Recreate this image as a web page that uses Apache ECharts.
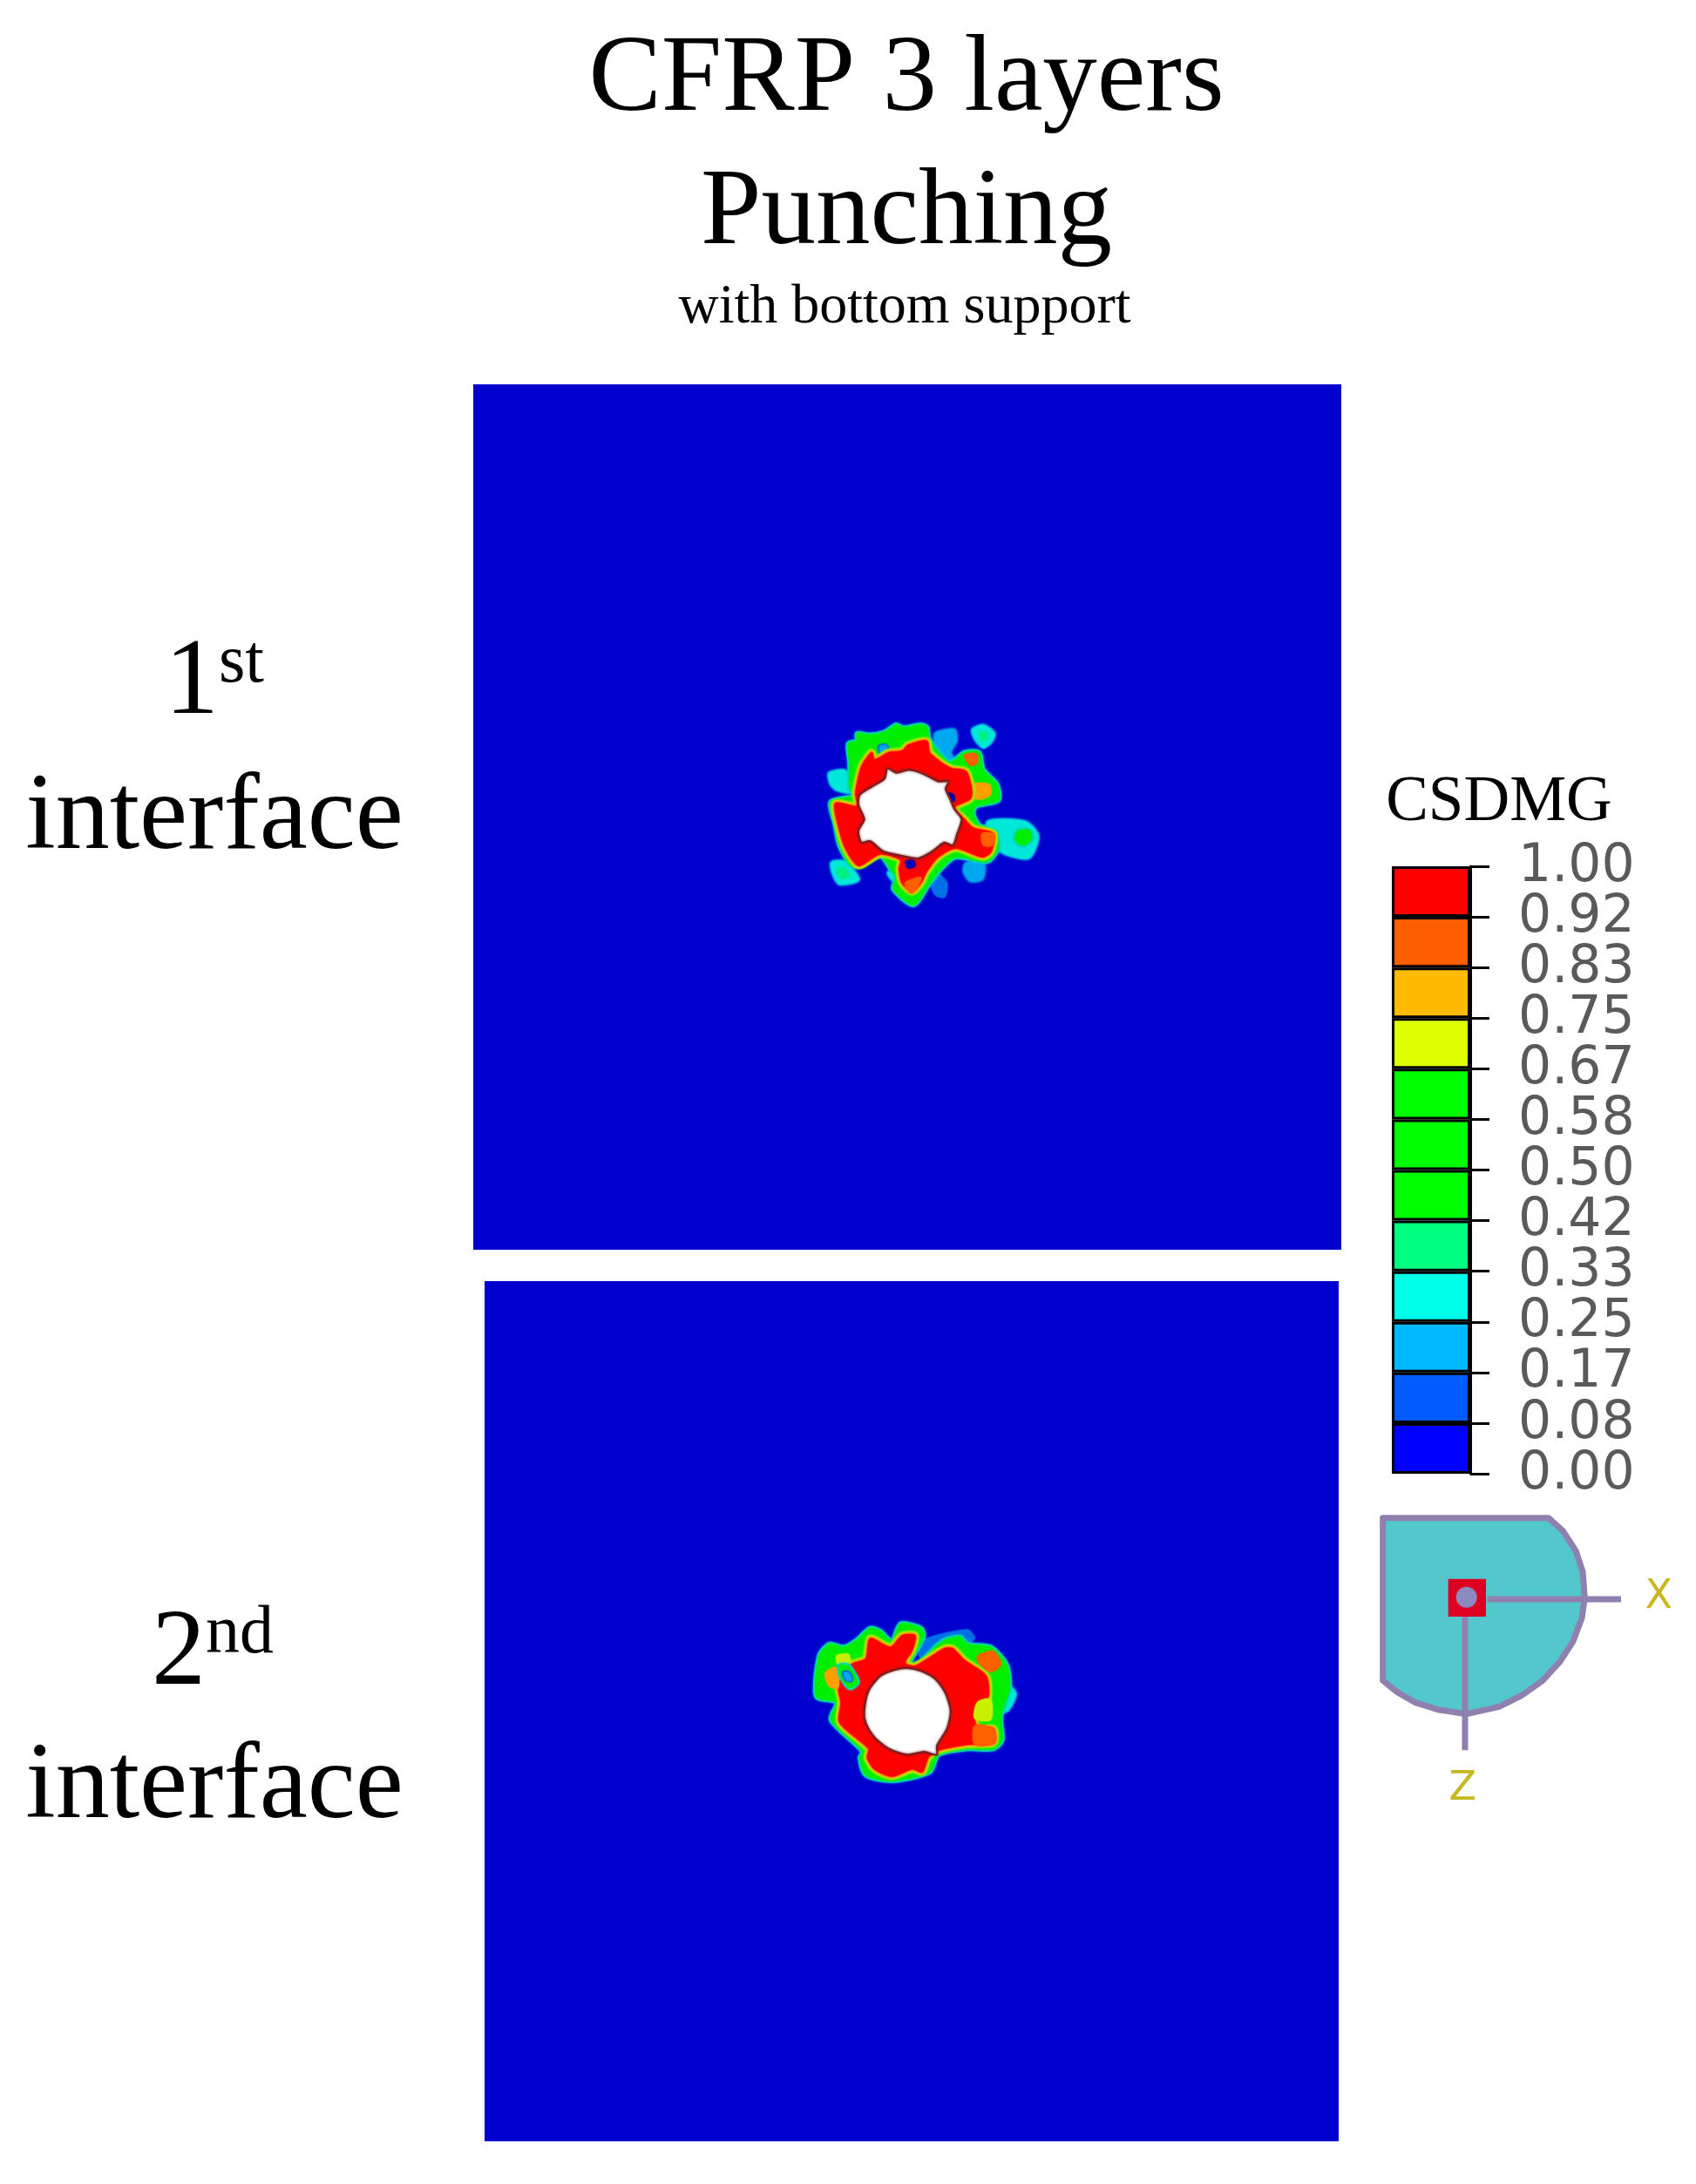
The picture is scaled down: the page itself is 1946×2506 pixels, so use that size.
<!DOCTYPE html>
<html><head><meta charset="utf-8">
<style>html,body{margin:0;padding:0;background:#fff}#c{width:1946px;height:2506px;filter:blur(0.7px)}</style>
<script src="https://cdn.jsdelivr.net/npm/echarts@6/dist/echarts.min.js"></script>
</head><body><div id="c"></div>
<script>
// ---- colour legend values ----
const legendTicks = ['0.00','0.08','0.17','0.25','0.33','0.42','0.50','0.58','0.67','0.75','0.83','0.92','1.00'];
const legendColors = ['#0000FF','#005CFF','#00B9FF','#00FFE8','#00FF80','#00FF00','#00FF00','#00FF00','#DFFF00','#FFBB00','#FF5E00','#FF0000'];

// ---- damage contours, interface 1 (x, y in model units; hole centre near 370,400) ----
const p1Blue1 = [[460,125],[525,112],[532,150],[512,190],[532,228],[490,205],[462,170]];
const p1Island = [[588,112],[625,98],[662,125],[650,155],[625,172],[598,145]];
const p1IslandCore = [[612,122],[635,122],[638,142],[622,150]];
const p1Left = [[95,262],[150,255],[170,325],[120,318],[100,298]];
const p1LowLeft = [[103,570],[148,568],[195,628],[130,642],[110,612]];
const p1LowLeftCore = [[122,590],[150,590],[165,618],[135,622]];
const p1Right = [[640,430],[770,430],[812,478],[782,552],[700,538],[660,505]];
const p1RightCore = [[745,460],[785,460],[790,490],[760,510],[735,490]];
const p1Low = [[565,572],[625,570],[622,625],[580,632],[558,600]];
const p1Low2 = [[470,610],[500,640],[492,688],[460,682],[445,640]];
const p1Low3 = [[298,605],[340,590],[345,640],[315,630]];
const p1Green = [[190,125],[235,130],[285,120],[325,95],[350,105],[410,95],[432,105],[437,140],[470,190],[510,225],[560,190],[610,190],[625,250],[672,300],[677,355],[600,375],[590,400],[610,440],[665,465],[675,520],[640,565],[530,550],[480,590],[440,640],[385,715],[315,660],[325,620],[305,590],[270,545],[200,580],[170,580],[130,510],[115,440],[100,360],[180,340],[165,310],[165,230],[160,160],[190,150]];
const p1Spot = [[268,170],[290,168],[295,190],[275,195]];
const p1Red = [[205,240],[240,190],[250,215],[300,190],[345,185],[365,165],[430,150],[440,190],[480,225],[515,245],[565,255],[585,320],[580,350],[525,380],[560,420],[590,450],[660,470],[650,535],[620,550],[530,520],[470,550],[430,600],[410,640],[380,670],[345,640],[335,590],[340,560],[270,540],[195,580],[150,520],[125,440],[115,365],[190,375],[185,330]];
const p1Or1 = [[355,640],[410,620],[395,660],[375,675]];
const p1Or2 = [[590,300],[645,300],[650,335],[620,350],[585,345]];
const p1Or3 = [[560,200],[600,195],[605,225],[580,235]];
const p1Or4 = [[620,470],[660,470],[655,510],[625,510]];
const p1Hole = [[200,335],[255,300],[285,280],[295,245],[325,260],[370,250],[420,265],[470,290],[505,290],[495,315],[510,350],[525,385],[550,420],[535,470],[520,510],[490,500],[450,530],[400,555],[340,545],[280,530],[235,495],[205,500],[195,460],[215,420],[195,370]];
const p1Dark1 = [[358,565],[385,562],[390,582],[365,588]];
const p1Dark2 = [[498,330],[522,335],[525,358],[505,355]];

// ---- damage contours, interface 2 (hole centre near 393,370) ----
const p2Blue = [[440,130],[600,90],[625,120],[590,145],[490,150],[440,190]];
const p2RightCyan = [[735,280],[765,310],[740,365],[712,372]];
const p2Green = [[90,180],[125,140],[175,150],[220,125],[265,85],[300,95],[340,130],[370,70],[440,85],[450,110],[420,170],[395,215],[440,200],[490,150],[525,125],[575,115],[600,140],[680,150],[735,210],[745,290],[720,370],[715,400],[720,470],[690,500],[600,500],[500,520],[470,580],[340,610],[250,590],[230,530],[240,510],[130,400],[150,340],[80,320]];
const p2Red = [[155,280],[200,210],[250,190],[265,120],[335,150],[375,110],[420,110],[410,160],[385,205],[420,215],[520,155],[550,155],[590,195],[665,250],[670,330],[625,400],[640,430],[690,430],[690,480],[600,485],[500,505],[465,530],[445,580],[410,570],[340,595],[280,570],[255,530],[260,500],[160,410],[165,340]];
const p2Or1 = [[110,240],[150,220],[155,290],[125,285]];
const p2Yel = [[150,180],[190,175],[195,205],[155,210]];
const p2Eye = [[160,215],[190,215],[222,270],[195,290],[165,250]];
const p2EyeCore = [[175,238],[192,240],[200,262],[185,262]];
const p2Yel2 = [[635,340],[680,330],[680,400],[625,395]];
const p2Or2 = [[625,420],[690,430],[695,480],[625,485]];
const p2Or3 = [[635,180],[690,165],[715,210],[680,235],[640,205]];
const p2Hole = [[245,370],[260,300],[300,250],[350,228],[393,222],[440,232],[490,260],[525,310],[542,370],[530,430],[495,490],[495,520],[470,515],[450,510],[393,520],[330,500],[280,460],[250,410]];

// ---- orientation triad ----
const triadBody = [[80,95],[650,95],[700,140],[745,210],[768,280],[775,370],[765,440],[735,520],[690,590],[630,655],[560,705],[480,745],[370,770],[270,755],[190,730],[130,695],[80,655]];
const triadBox = [[305,305],[435,305],[435,435],[305,435]];
const triadAxisX = [[440,375],[900,375]];
const triadAxisZ = [[363,435],[363,895]];

// ---- region lists: [points, kind] ----
const panel1Regions = [
 [p1Blue1,'sky'],[p1Low,'sky'],[p1Low2,'azure'],[p1Low3,'cyan'],
 [p1Island,'cyan'],[p1IslandCore,'spring'],[p1Left,'cyan'],[p1LowLeft,'cyan'],[p1LowLeftCore,'spring'],
 [p1Right,'cyan'],[p1RightCore,'green'],
 [p1Green,'green'],[p1Spot,'sky'],[p1Or3,'dorange'],[p1Or2,'orange'],
 [p1Red,'red'],[p1Or1,'dorange'],[p1Or4,'dorange'],
 [p1Dark1,'navy'],[p1Dark2,'navy'],[p1Hole,'hole']
];
const panel2Regions = [
 [p2Blue,'azure'],[p2RightCyan,'cyan'],[p2Green,'green'],
 [p2Red,'red'],[p2Or1,'orange'],[p2Yel,'yellow'],[p2Eye,'green'],[p2EyeCore,'sky'],
 [p2Yel2,'yellow'],[p2Or2,'dorange'],[p2Or3,'dorange'],[p2Hole,'hole']
];

const kinds = {
 red:{fill:'#FF0000',halos:[['#90F000',8],['#FFB000',4]]},
 green:{fill:'#00EE00',halos:[['#00D8C0',5]]},
 cyan:{fill:'#00E8D8',halos:[['#00A0E8',4]]},
 spring:{fill:'#00F080',halos:[]},
 sky:{fill:'#00A8F0',halos:[['#0060E0',4]]},
 azure:{fill:'#0070E8',halos:[]},
 yellow:{fill:'#C8F000',halos:[]},
 orange:{fill:'#FFA000',halos:[]},
 dorange:{fill:'#FF6000',halos:[]},
 navy:{fill:'#0000B0',halos:[]},
 hole:{fill:'#FFFFFF',halos:[],stroke:'#7A2020',lw:2}
};

function contourSeries(regions,gridIndex){
 return {type:'custom',coordinateSystem:'cartesian2d',xAxisIndex:gridIndex,yAxisIndex:gridIndex,silent:true,clip:true,
  data:regions.map((r,i)=>[i]),
  renderItem(params,api){
   const r=regions[api.value(0)],k=kinds[r[1]];
   const pts=r[0].map(p=>api.coord(p));
   const children=k.halos.map(h=>({type:'polygon',shape:{points:pts,smooth:0.25},style:{fill:h[0],stroke:h[0],lineWidth:h[1],lineJoin:'round',shadowBlur:3,shadowColor:h[0]}}));
   children.push({type:'polygon',shape:{points:pts,smooth:0.25},style:{fill:k.fill,stroke:k.stroke||k.fill,lineWidth:k.lw||1,shadowBlur:k.stroke?3:2,shadowColor:k.stroke||k.fill}});
   return {type:'group',children};
  }};
}
const hiddenX=(i,min,max)=>({type:'value',gridIndex:i,min,max,show:false,scale:true});
const hiddenY=(i,min,max)=>({type:'value',gridIndex:i,min,max,inverse:true,show:false,scale:true});
const serif='"Liberation Serif"';
const ttl=(text,left,top,size,extra)=>({text,left,top,textAlign:'center',padding:0,textStyle:Object.assign({fontFamily:serif,fontSize:size,fontWeight:'normal',color:'#000'},extra||{})});
const ordRich={a:{fontFamily:serif,fontSize:124,color:'#000'},s:{fontFamily:serif,fontSize:78,color:'#000',verticalAlign:'top',padding:[0,0,40,0]}};

const chart=echarts.init(document.getElementById('c'),null,{renderer:'canvas'});
const option={
 animation:false,backgroundColor:'#fff',
 title:[
  ttl('CFRP 3 layers',1040,31,125),
  ttl('Punching',1040,184,125),
  ttl('with bottom support',1038,321,64),
  ttl('{a|1}{s|st}',246,723,124,{rich:ordRich}),
  ttl('interface',246,878,124),
  ttl('{a|2}{s|nd}',244,1837,124,{rich:ordRich}),
  ttl('interface',246,1990,124),
  ttl('CSDMG',1720,885,73)
 ],
 grid:[
  {left:543,top:441,width:996,height:993,show:true,backgroundColor:'#0000CE',borderWidth:0},
  {left:556,top:1470,width:980,height:987,show:true,backgroundColor:'#0000CE',borderWidth:0},
  {left:1597,top:994,width:90,height:697},
  {left:1560,top:1710,width:386,height:380}
 ],
 xAxis:[
  hiddenX(0,-1131,1857),hiddenX(1,-1062,1878),
  {type:'category',gridIndex:2,data:['CSDMG'],show:false},
  hiddenX(3,0,1158)
 ],
 yAxis:[
  hiddenY(0,-1077,1902),hiddenY(1,-1110,1851),
  {type:'value',gridIndex:2,min:0,max:12,interval:1,position:'right',
   axisLine:{show:true,lineStyle:{color:'#000',width:3}},
   axisTick:{show:true,inside:false,length:22,lineStyle:{color:'#000',width:3}},
   splitLine:{show:false},
   axisLabel:{show:false}},
  hiddenY(3,0,1140)
 ],
 series:[
  contourSeries(panel1Regions,0),
  contourSeries(panel2Regions,1),
  ...legendColors.map((c,i)=>({type:'bar',xAxisIndex:2,yAxisIndex:2,stack:'legend',barWidth:'100%',silent:true,
    data:[1],itemStyle:{color:c,borderColor:'#000',borderWidth:3}})),
  {type:'custom',xAxisIndex:2,yAxisIndex:2,silent:true,clip:false,
   data:legendTicks.map((t,i)=>[0,i]),
   renderItem(params,api){
    const p=api.coord([0,api.value(1)]);
    return {type:'text',x:p[0]+100,y:p[1]+1,style:{text:legendTicks[api.value(1)],fontFamily:'"DejaVu Sans"',fontSize:60,fill:'#5A5A5A',align:'left',verticalAlign:'middle'}};
   }},
  {type:'custom',xAxisIndex:3,yAxisIndex:3,silent:true,data:[[0]],
   renderItem(params,api){
    const P=a=>a.map(p=>api.coord(p));
    const c=api.coord([368,368]);
    const o=api.coord([1030,368]),z=api.coord([355,1030]);
    const a=P(triadAxisX),b=P(triadAxisZ);
    const purple='#9080B0';
    return {type:'group',children:[
     {type:'polygon',shape:{points:P(triadBody)},style:{fill:'#52C8CC',stroke:purple,lineWidth:7,lineJoin:'round'}},
     {type:'polygon',shape:{points:P(triadBox)},style:{fill:'#DD0022'}},
     {type:'circle',shape:{cx:c[0],cy:c[1],r:12},style:{fill:'#8C88C0'}},
     {type:'line',shape:{x1:a[0][0],y1:a[0][1],x2:a[1][0],y2:a[1][1]},style:{stroke:purple,lineWidth:7}},
     {type:'line',shape:{x1:b[0][0],y1:b[0][1],x2:b[1][0],y2:b[1][1]},style:{stroke:purple,lineWidth:7}},
     {type:'text',x:o[0],y:o[1],style:{text:'X',fontFamily:'"DejaVu Sans"',fontSize:46,fill:'#C8B820',align:'center',verticalAlign:'middle'}},
     {type:'text',x:z[0],y:z[1],style:{text:'Z',fontFamily:'"DejaVu Sans"',fontSize:46,fill:'#C8B820',align:'center',verticalAlign:'middle'}}
    ]};
   }}
 ]
};
chart.setOption(option);
</script></body></html>
